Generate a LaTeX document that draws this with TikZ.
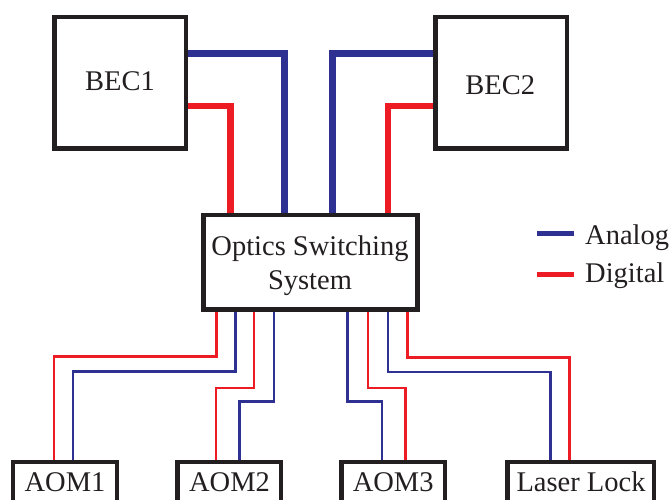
\documentclass[tikz,border=0pt]{standalone}
\usepackage{fontspec}
\setmainfont{Liberation Serif}
\definecolor{anblue}{HTML}{2E3192}
\definecolor{dgred}{HTML}{ED1C24}
\definecolor{bk}{HTML}{231F20}
\begin{document}
\begin{tikzpicture}[x=1bp,y=-1bp,
  box/.style={draw=bk, line width=4.5bp, inner sep=0pt, rectangle},
  lbl/.style={inner sep=0pt, anchor=base, text=bk, font=\fontsize{28.6pt}{35.1pt}\selectfont},
  thickan/.style={draw=anblue, line width=6.6bp},
  thickdg/.style={draw=dgred, line width=6.6bp},
  thinan/.style={draw=anblue, line width=2.6bp},
  thindg/.style={draw=dgred, line width=2.6bp},
  legline/.style={line width=5bp}]
\useasboundingbox (0,0) rectangle (672,500);

% boxes
\node[box, minimum width=131.5bp, minimum height=131.5bp] (bec1) at (120,83) {};
\node[box, minimum width=131.5bp, minimum height=131.5bp] (bec2) at (501,83) {};
\node[box, minimum width=214bp, minimum height=94bp] (oss) at (310.25,262.25) {};
\node[box, minimum width=103.8bp, minimum height=80bp] (aom1) at (64.85,501.75) {};
\node[box, minimum width=103.5bp, minimum height=80bp] (aom2) at (229,501.75) {};
\node[box, minimum width=103.5bp, minimum height=80bp] (aom3) at (393.3,501.75) {};
\node[box, minimum width=146.5bp, minimum height=80bp] (laser) at (580.5,501.75) {};

% labels
\node[lbl] (bec1t) at (120,90.7) {BEC1};
\node[lbl] (bec2t) at (500.3,94.3) {BEC2};
\node[lbl, anchor=center, align=center] (osst) at (310,265.7) {Optics Switching\\System};
\node[lbl] (aom1t) at (65,491.7) {AOM1};
\node[lbl] (aom2t) at (229.5,491.7) {AOM2};
\node[lbl] (aom3t) at (393.2,491.7) {AOM3};
\node[lbl] (lasert) at (581,491.7) {Laser Lock};

% BEC connections
\draw[thickan] (bec1.east |- 0,53.5) -| (oss.north -| 284.3,0);
\draw[thickdg] (bec1.east |- 0,106) -| (oss.north -| 230.5,0);
\draw[thickan] (bec2.west |- 0,53.5) -| (oss.north -| 332.5,0);
\draw[thickdg] (bec2.west |- 0,106) -| (oss.north -| 388,0);

% outputs
\draw[thindg] (oss.south -| 216.2,0) -- (216.2,356.5) -| (aom1.north -| 54,0);
\draw[thinan] (oss.south -| 235.6,0) -- (235.6,371.2) -| (aom1.north -| 72.8,0);
\draw[thindg] (oss.south -| 253.8,0) -- (253.8,388) -| (aom2.north -| 216,0);
\draw[thinan] (oss.south -| 273.8,0) -- (273.8,401.6) -| (aom2.north -| 239.3,0);
\draw[thinan] (oss.south -| 347.4,0) -- (347.4,401.6) -| (aom3.north -| 382,0);
\draw[thindg] (oss.south -| 367.8,0) -- (367.8,388) -| (aom3.north -| 405.3,0);
\draw[thinan] (oss.south -| 388.1,0) -- (388.1,372) -| (laser.north -| 550.6,0);
\draw[thindg] (oss.south -| 407.6,0) -- (407.6,357.7) -| (laser.north -| 569.3,0);

% legend
\coordinate (la1) at (537.3,233.3);
\coordinate (la2) at (574,233.3);
\coordinate (ld1) at (537.3,274.3);
\coordinate (ld2) at (574,274.3);
\draw[legline, anblue] (la1) -- (la2);
\draw[legline, dgred] (ld1) -- (ld2);
\node[lbl, anchor=base west] (legan) at (585,244.3) {Analog};
\node[lbl, anchor=base west] (legdg) at (585,282.7) {Digital};
\end{tikzpicture}
\end{document}
